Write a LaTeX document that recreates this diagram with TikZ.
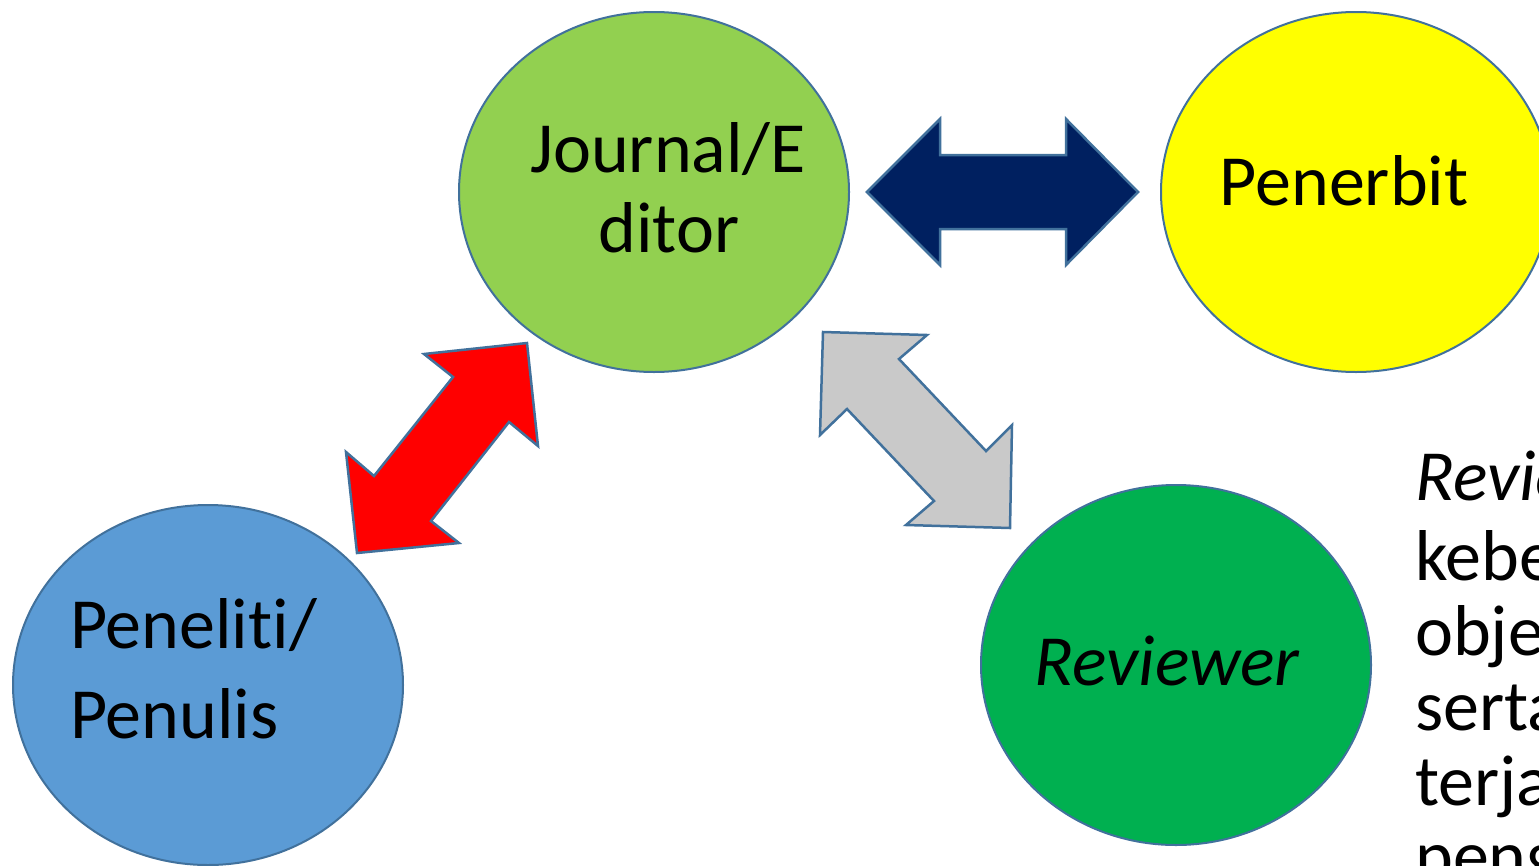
\documentclass[tikz,border=0pt]{standalone}
\usepackage{fontspec}
\setmainfont{Carlito}[Ligatures={NoCommon}]
\usetikzlibrary{shapes.geometric}
\definecolor{outl}{HTML}{41719C}
\definecolor{jgreen}{HTML}{92D050}
\definecolor{ryellow}{HTML}{FFFF00}
\definecolor{pblue}{HTML}{5B9BD5}
\definecolor{rgreen}{HTML}{00B050}
\definecolor{navy}{HTML}{002060}
\definecolor{lgray}{HTML}{C9C9C9}
\begin{document}
\begin{tikzpicture}[x=1pt,y=-1pt,
  bubble/.style={ellipse,draw=outl,line width=2pt,minimum width=390pt,minimum height=360pt,inner sep=0pt},
  blockarrow/.style={draw=outl,line width=2.5pt,line join=miter},
  lbl/.style={inner sep=0pt,font=\fontsize{72}{80}\selectfont}]
\useasboundingbox (0,0) rectangle (1539,865);
\clip (0,0) rectangle (1539,865);
\fill[white] (0,0) rectangle (1539,865);
% ellipses
\node[bubble,fill=jgreen] (ed) at (654,192) {};
\node[bubble,fill=ryellow] (pub) at (1356,192) {};
\node[bubble,fill=pblue] (au) at (208,685) {};
\node[bubble,fill=rgreen] (rev) at (1176,665) {};
% labels
\node[lbl,anchor=base] (edt1) at (668,172) {Journal/E};
\node[lbl,anchor=base] (edt2) at (669,252) {ditor};
\node[lbl,anchor=base] (pubt) at (1344,205) {Penerbit};
\node[lbl,anchor=base west] (aut1) at (70,648) {Peneliti/};
\node[lbl,anchor=base west] (aut2) at (70,738) {Penulis};
\node[lbl,anchor=base] (revt) at (1167,685) {\itshape Reviewer};
% side text (clipped by the page edge, as in the reference)
\node[lbl,anchor=base west] (s1) at (1415,500) {\itshape Review};
\node[lbl,anchor=base west] (s2) at (1415,580) {kebeb};
\node[lbl,anchor=base west] (s3) at (1415,655) {objekt};
\node[lbl,anchor=base west] (s4) at (1415,730) {serta};
\node[lbl,anchor=base west] (s5) at (1415,805) {terjadi};
\node[lbl,anchor=base west] (s6) at (1415,880) {penga};
% navy double arrow
\draw[blockarrow,fill=navy] (867,192) -- (940,119) -- (940,155) -- (1066,155) -- (1066,119)
  -- (1138,192) -- (1066,265) -- (1066,229) -- (940,229) -- (940,265) -- cycle;
% red double arrow
\draw[blockarrow,fill=red] (527,343) -- (538,446) -- (509,422) -- (431,521) -- (459,543)
  -- (357,553) -- (346,452) -- (374,476) -- (453,377) -- (424,354) -- cycle;
% gray double arrow
\draw[blockarrow,fill=lgray] (823,332) -- (927,335) -- (899,359) -- (986,451) -- (1012,425)
  -- (1010,528) -- (906,525) -- (934,501) -- (847,409) -- (820,435) -- cycle;
\end{tikzpicture}
\end{document}
